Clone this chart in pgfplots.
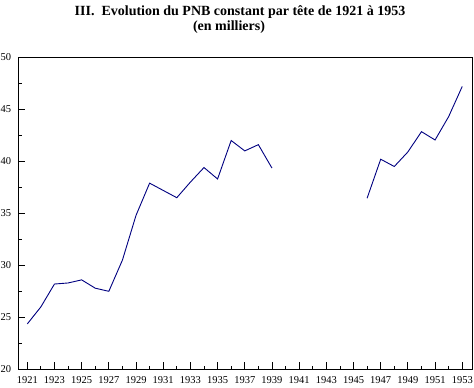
\documentclass[border=0pt]{standalone}
\usepackage{fontspec}
\setmainfont{Liberation Serif}
\usepackage{pgfplots}
\pgfplotsset{compat=1.18}
\definecolor{navy}{RGB}{0,0,128}
\begin{document}
\begin{tikzpicture}[x=1bp,y=1bp]
\useasboundingbox (0,0) rectangle (474,387);
\begin{axis}[
  at={(18.3bp,17.7bp)}, anchor=south west,
  scale only axis, width=454bp, height=312bp,
  xmin=1920.34, xmax=1953.74, ymin=20, ymax=50,
  xtick={1921,1923,...,1953},
  minor xtick={1922,1924,...,1952},
  ytick={20,25,...,50},
  minor ytick={22.5,27.5,...,47.5},
  xtick pos=left, ytick pos=left,
  tick align=inside,
  major tick length=7bp, minor tick length=3.5bp,
  every tick/.style={black, line width=0.8bp},
  every minor tick/.style={black, line width=0.8bp},
  axis line style={line width=0.8bp},
  /pgf/number format/assume math mode=true,
  xticklabel={\pgfmathprintnumber[1000 sep=]{\tick}},
  ticklabel style={font=\fontsize{10.5bp}{12bp}\selectfont},
  xticklabel style={inner sep=0pt, anchor=north, yshift=-7.4bp},
  yticklabel style={inner sep=0pt, anchor=east, xshift=-7bp},
  unbounded coords=jump,
  clip=false,
]
\addplot[navy, line width=0.9bp] coordinates {
(1921,24.36) (1922,26.0) (1923,28.2) (1924,28.3) (1925,28.6) (1926,27.8)
(1927,27.5) (1928,30.5) (1929,34.8) (1930,37.9) (1931,37.2) (1932,36.5)
(1933,38.0) (1934,39.4) (1935,38.3) (1936,42.0) (1937,41.0) (1938,41.6)
(1939,39.35) (1940,nan)
(1946,36.45) (1947,40.2) (1948,39.5) (1949,40.9) (1950,42.85) (1951,42.05)
(1952,44.3) (1953,47.2)
};
\end{axis}
\node[font=\fontsize{14bp}{16bp}\selectfont\bfseries, anchor=base, inner sep=0pt] at (240,372) {III.\ \ Evolution du PNB constant par tête de 1921 à 1953};
\node[font=\fontsize{14bp}{16bp}\selectfont\bfseries, anchor=base, inner sep=0pt] at (229,357) {(en milliers)};
\end{tikzpicture}
\end{document}
